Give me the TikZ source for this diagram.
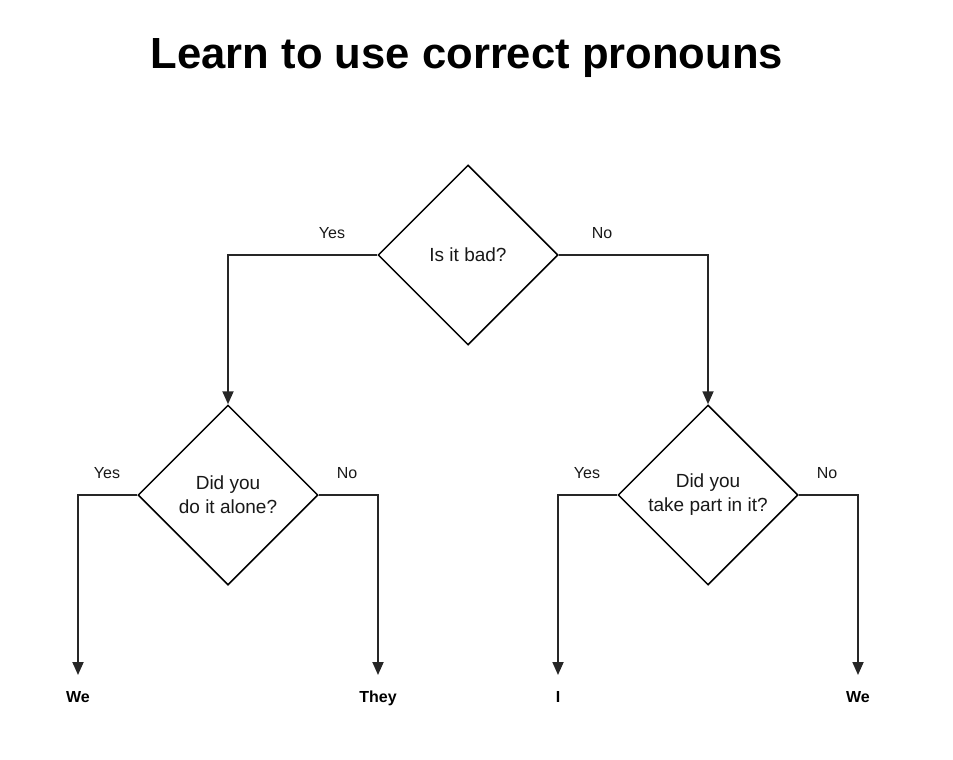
\documentclass[tikz,border=0pt]{standalone}
\usepackage{fontspec}
\setmainfont{Liberation Sans}
\usetikzlibrary{shapes.geometric,arrows.meta}
\tikzset{
  decision/.style={draw=black, line width=1.5pt, diamond, aspect=1, minimum width=180pt, minimum height=180pt, inner sep=0pt, align=center, font=\fontsize{19}{24}\selectfont, text=black!90},
  conn/.style={draw=black!85, line width=1.8pt, -{Triangle[length=13pt,width=11pt]}},
  lbl/.style={anchor=base, font=\fontsize{16}{19}\selectfont, text=black!90},
  outcome/.style={anchor=base, font=\fontsize{16}{19}\selectfont\bfseries, text=black},
}
\begin{document}
\begin{tikzpicture}[x=1pt,y=-1pt]
\useasboundingbox[fill=white] (0,0) rectangle (953,760);
\node[anchor=base, font=\fontsize{43.6}{50}\selectfont\bfseries] (title) at (467,68) {Learn to use correct pronouns};

\node[decision] (q1) at (468,255) {Is it bad?};
\node[decision] (q2) at (228,495) {Did you\\do it alone?};
\node[decision] (q3) at (708,495) {Did you\\take part in it?};

\coordinate (t1) at (78,675);
\coordinate (t2) at (378,675);
\coordinate (t3) at (558,675);
\coordinate (t4) at (858,675);

\draw[conn] (q1.west) -| (q2.north);
\draw[conn] (q1.east) -| (q3.north);
\draw[conn] (q2.west) -| (t1);
\draw[conn] (q2.east) -| (t2);
\draw[conn] (q3.west) -| (t3);
\draw[conn] (q3.east) -| (t4);

\node[lbl] (y1) at (332,238) {Yes};
\node[lbl] (n1) at (602,238) {No};
\node[lbl] (y2) at (107,478) {Yes};
\node[lbl] (n2) at (347,478) {No};
\node[lbl] (y3) at (587,478) {Yes};
\node[lbl] (n3) at (827,478) {No};

\node[outcome] (o1) at (78,702) {We};
\node[outcome] (o2) at (378,702) {They};
\node[outcome] (o3) at (558,702) {I};
\node[outcome] (o4) at (858,702) {We};
\end{tikzpicture}
\end{document}
